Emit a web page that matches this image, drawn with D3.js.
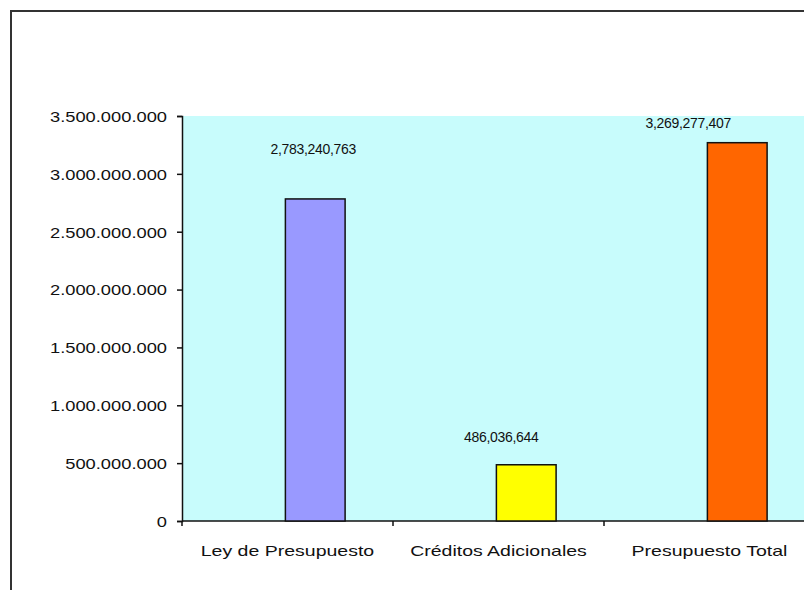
<!DOCTYPE html>
<html>
<head>
<meta charset="utf-8">
<script src="https://cdn.jsdelivr.net/npm/d3@7"></script>
<style>
  html, body { margin: 0; padding: 0; background: #fff; }
  svg { display: block; }
  text { font-family: "Liberation Sans", Arial, sans-serif; fill: #111; }
</style>
</head>
<body>
<svg id="chart" width="804" height="590"></svg>
<script>
// Budget figures
const categories = ["Ley de Presupuesto", "Créditos Adicionales", "Presupuesto Total"];
const values = [2783240763, 486036644, 3269277407];
const barColors = ["#9999FF", "#FFFF00", "#FF6600"];
const valueLabels = ["2,783,240,763", "486,036,644", "3,269,277,407"];
const yTicks = [0, 500000000, 1000000000, 1500000000, 2000000000, 2500000000, 3000000000, 3500000000];

const svg = d3.select("#chart");

// Plot geometry
const plot = { left: 182, top: 116, bottom: 521, bandWidth: 211 };
const plotRight = plot.left + plot.bandWidth * categories.length;

const x = d3.scaleBand().domain(categories).range([plot.left, plotRight]).padding(0);
const y = d3.scaleLinear().domain([0, 3500000000]).range([plot.bottom, plot.top]);

// Outer chart frame
svg.append("rect")
  .attr("x", 11).attr("y", 11)
  .attr("width", 900).attr("height", 700)
  .attr("fill", "#fff")
  .attr("stroke", "#333").attr("stroke-width", 2);

// Plot area background
svg.append("rect")
  .attr("x", plot.left).attr("y", plot.top)
  .attr("width", plotRight - plot.left).attr("height", plot.bottom - plot.top)
  .attr("fill", "#C8FCFC");

// Horizontally widen a text element by a factor
function widen(sel, factor) {
  sel.each(function () {
    const w = this.getComputedTextLength();
    d3.select(this).attr("textLength", w * factor).attr("lengthAdjust", "spacingAndGlyphs");
  });
}

// Y axis
const fmtDots = v => d3.format(",")(v).replace(/,/g, ".");
const yAxis = d3.axisLeft(y).tickValues(yTicks).tickSize(5).tickPadding(10).tickFormat(fmtDots);
const gy = svg.append("g").attr("transform", `translate(${plot.left},0)`).call(yAxis);
gy.select(".domain").attr("stroke", "#111").attr("stroke-width", 1.5);
gy.selectAll(".tick line").attr("stroke", "#111").attr("stroke-width", 1.5);
gy.selectAll(".tick text")
  .attr("font-size", 15).attr("font-family", "Liberation Sans, Arial, sans-serif")
  .attr("fill", "#111").attr("dy", "0.36em")
  .call(widen, 1.22);

// X axis: ticks at category boundaries
const boundaries = d3.range(categories.length + 1).map(i => plot.left + i * x.bandwidth());
const gx = svg.append("g");
gx.append("line")
  .attr("x1", plot.left).attr("x2", plotRight)
  .attr("y1", plot.bottom).attr("y2", plot.bottom)
  .attr("stroke", "#111").attr("stroke-width", 1.5);
gx.selectAll("line.tk").data(boundaries).join("line").attr("class", "tk")
  .attr("x1", d => d).attr("x2", d => d)
  .attr("y1", plot.bottom).attr("y2", plot.bottom + 5)
  .attr("stroke", "#111").attr("stroke-width", 1.5);
gx.selectAll("text").data(categories).join("text")
  .attr("x", d => x(d) + x.bandwidth() / 2)
  .attr("y", 556)
  .attr("text-anchor", "middle")
  .attr("font-size", 15)
  .text(d => d)
  .call(widen, 1.3);

// Bars
const barOffset = 0.49, barFrac = 0.283;
svg.selectAll("rect.bar").data(values).join("rect").attr("class", "bar")
  .attr("x", (d, i) => x(categories[i]) + x.bandwidth() * barOffset)
  .attr("y", d => y(d))
  .attr("width", x.bandwidth() * barFrac)
  .attr("height", d => plot.bottom - y(d))
  .attr("fill", (d, i) => barColors[i])
  .attr("stroke", "#111").attr("stroke-width", 1.5);

// Value labels, nudged from the bar top
const labelNudge = [[-2, -45], [-25, -23], [-49, -15]];
svg.selectAll("text.val").data(values).join("text").attr("class", "val")
  .attr("x", (d, i) => x(categories[i]) + x.bandwidth() * (barOffset + barFrac / 2) + labelNudge[i][0])
  .attr("y", (d, i) => y(d) + labelNudge[i][1])
  .attr("text-anchor", "middle")
  .attr("font-size", 14)
  .attr("letter-spacing", -0.3)
  .text((d, i) => valueLabels[i]);
</script>
</body>
</html>
